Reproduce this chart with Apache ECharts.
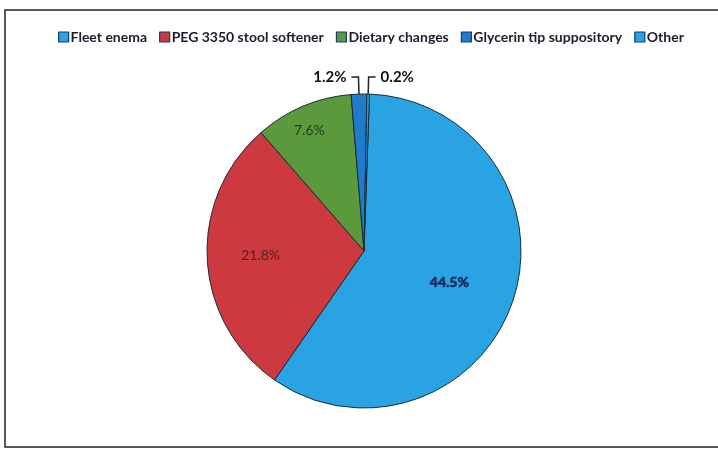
<!DOCTYPE html>
<html><head><meta charset="utf-8">
<script src="https://cdn.jsdelivr.net/npm/echarts@6/dist/echarts.min.js"></script>
<style>html,body{margin:0;padding:0;background:#fff}#c{width:718px;height:452px}</style>
</head><body><div id="c"></div>
<script>
const categories = ['Fleet enema', 'PEG 3350 stool softener', 'Dietary changes', 'Glycerin tip suppository', 'Other'];
const values = [44.5, 21.8, 7.6, 1.2, 0.2];
const colors = ['#2aa3e2', '#cc3a3f', '#5a9a3c', '#1f7ccc', '#22a6ea'];
const labelColors = ['#1c2a5e', '#5a1e1e', '#1e3a1e', '#111', '#111'];
const labelPos = ['inside', 'inside', 'inside', 'outside', 'outside'];
const labelShift = [[8, 6], [-22, 0], [-23, -45], [0, 0], [0, 0]];

const chart = echarts.init(document.getElementById('c'));
chart.setOption({
  animation: false,
  textStyle: { fontFamily: 'Lato' },
  graphic: [{ type: 'rect', shape: { x: 5, y: 10, width: 720, height: 437 }, style: { fill: 'none', stroke: '#222', lineWidth: 1.5 } }],
  legend: {
    top: 25, left: 53, itemGap: 12, itemWidth: 10, itemHeight: 10, icon: 'rect',
    textStyle: { fontSize: 14, fontWeight: 700, color: '#1c1c2c', fontFamily: 'Lato', padding: [0, 0, 0, -3] },
    data: categories.map((c, i) => ({ name: c, itemStyle: { color: colors[i], borderColor: '#1a3a6a', borderWidth: 1.2 } }))
  },
  series: [{
    type: 'pie', center: [364, 251], radius: 157, startAngle: 88, clockwise: true,
    itemStyle: { borderColor: '#1a2a3a', borderWidth: 1 },
    data: values.map((v, i) => ({
      name: categories[i], value: v,
      itemStyle: { color: colors[i] },
      label: {
        show: true, position: labelPos[i], color: labelColors[i], fontFamily: 'Lato',
        fontSize: i < 3 ? 14 : 15, fontWeight: i === 0 || i > 2 ? 'bold' : 'normal',
        textBorderColor: labelColors[i], textBorderWidth: i === 0 ? 0.6 : 0,
        formatter: () => v.toFixed(1) + '%'
      },
      labelLine: { show: i > 2, length: 17, length2: 7, lineStyle: { color: '#222', width: 1.5 } }
    })),
    labelLayout: (p) => {
      const s = labelShift[p.dataIndex];
      return (s[0] || s[1]) ? { dx: s[0], dy: s[1] } : {};
    }
  }]
});
</script></body></html>
